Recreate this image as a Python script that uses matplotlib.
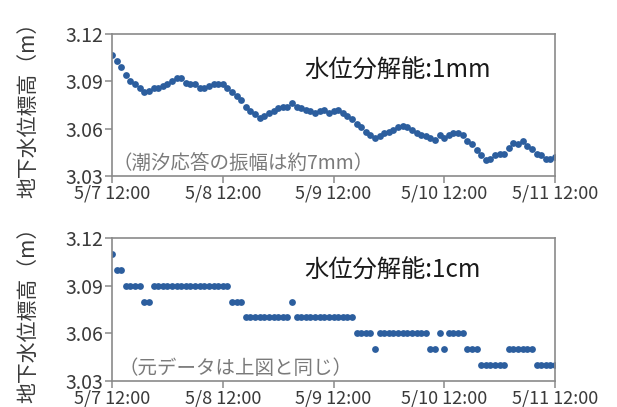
import numpy as np
import pandas as pd
import matplotlib
matplotlib.use('Agg')
import matplotlib.pyplot as plt

plt.rcParams['font.family'] = ['Noto Sans CJK JP', 'DejaVu Sans']

# hourly readings, 5/7 12:00 -> 5/11 12:00
times = pd.date_range('2024-05-07 12:00', periods=97, freq='h')

# 1 mm resolution record (m)
level_mm = [
    3.107, 3.103, 3.099, 3.094, 3.090, 3.088, 3.086, 3.083, 3.084, 3.0855,
    3.086, 3.087, 3.088, 3.090, 3.092, 3.092, 3.089, 3.088, 3.088, 3.086,
    3.086, 3.087, 3.088, 3.088, 3.088, 3.086, 3.083, 3.081, 3.078, 3.074,
    3.071, 3.069, 3.067, 3.068, 3.070, 3.071, 3.073, 3.074, 3.074, 3.076,
    3.074, 3.073, 3.072, 3.071, 3.070, 3.071, 3.072, 3.070, 3.071, 3.072,
    3.070, 3.068, 3.066, 3.063, 3.061, 3.058, 3.056, 3.054, 3.0555, 3.057,
    3.058, 3.059, 3.061, 3.062, 3.061, 3.059, 3.057, 3.056, 3.0555, 3.054,
    3.053, 3.056, 3.054, 3.056, 3.057, 3.057, 3.056, 3.052, 3.050, 3.0465,
    3.043, 3.040, 3.041, 3.043, 3.044, 3.044, 3.048, 3.051, 3.050, 3.052,
    3.049, 3.047, 3.044, 3.043, 3.041, 3.041, 3.042,
]

# same record at 1 cm resolution (m)
level_cm = [
    3.11, 3.10, 3.10, 3.09, 3.09, 3.09, 3.09, 3.08, 3.08, 3.09,
    3.09, 3.09, 3.09, 3.09, 3.09, 3.09, 3.09, 3.09, 3.09, 3.09,
    3.09, 3.09, 3.09, 3.09, 3.09, 3.09, 3.08, 3.08, 3.08, 3.07,
    3.07, 3.07, 3.07, 3.07, 3.07, 3.07, 3.07, 3.07, 3.07, 3.08,
    3.07, 3.07, 3.07, 3.07, 3.07, 3.07, 3.07, 3.07, 3.07, 3.07,
    3.07, 3.07, 3.07, 3.06, 3.06, 3.06, 3.06, 3.05, 3.06, 3.06,
    3.06, 3.06, 3.06, 3.06, 3.06, 3.06, 3.06, 3.06, 3.06, 3.05,
    3.05, 3.06, 3.05, 3.06, 3.06, 3.06, 3.06, 3.05, 3.05, 3.05,
    3.04, 3.04, 3.04, 3.04, 3.04, 3.04, 3.05, 3.05, 3.05, 3.05,
    3.05, 3.05, 3.04, 3.04, 3.04, 3.04, 3.04,
]

yticks = [3.03, 3.06, 3.09, 3.12]
xtick_labels = ['5/7 12:00', '5/8 12:00', '5/9 12:00', '5/10 12:00', '5/11 12:00']
titles = ['水位分解能:1mm', '水位分解能:1cm']
notes = ['（潮汐応答の振幅は約7mm）', '（元データは上図と同じ）']
ylabel = '地下水位標高（m）'

DOT = '#2c5e9e'
SPINE = '#8a8a8a'

W, H = 617, 407
fig = plt.figure(figsize=(W / 100, H / 100), dpi=100)


def px_axes(left, top, right, bottom):
    return fig.add_axes([left / W, 1 - bottom / H, (right - left) / W, (bottom - top) / H])


axes = [px_axes(112, 34, 555, 176), px_axes(112, 238, 555, 381)]
series = [level_mm, level_cm]
note_x = [0.0, 0.015]
title_y = [0.74, 0.77]
note_y = [0.085, 0.085]

xticks = times[::24]
for i, ax in enumerate(axes):
    ax.plot(times, series[i], 'o', color=DOT, ms=4.9, mec='none')
    ax.set_xlim(times[0], times[-1])
    ax.set_ylim(3.03, 3.12)
    ax.set_yticks(yticks)
    ax.set_yticklabels([f'{v:.2f}' for v in yticks], fontsize=14, color='#3a3a3a')
    ax.set_xticks(xticks)
    ax.set_xticklabels(xtick_labels, fontsize=13, color='#3a3a3a')
    ax.tick_params(direction='out', length=5, width=1.1, color=SPINE, pad=1)
    for s in ax.spines.values():
        s.set_color(SPINE)
        s.set_linewidth(1.2)
    ax.set_ylabel(ylabel, fontsize=15, color='#3a3a3a')
    ax.yaxis.set_label_coords(-0.165, 0.5)
    ax.text(0.435, title_y[i], titles[i], transform=ax.transAxes,
            fontsize=17.5, color='#1a1a1a', va='center', ha='left')
    ax.text(note_x[i], note_y[i], notes[i], transform=ax.transAxes,
            fontsize=14, color='#7a7a7a', va='center', ha='left')

fig.savefig('out.png', dpi=100)
